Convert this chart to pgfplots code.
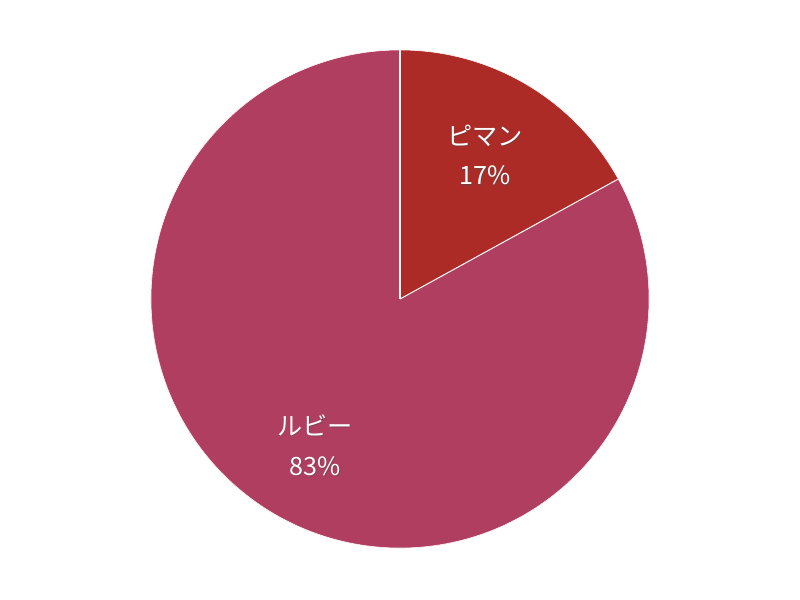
\documentclass[border=0pt]{standalone}
\usepackage{pgfplots}
\pgfplotsset{compat=1.18}
\usepackage{pgfplotstable}
\usepackage{fontspec}
\setmainfont{Noto Sans CJK JP}

\definecolor{pimang}{HTML}{AD2B26}
\definecolor{ruby}{HTML}{AF3E61}

% share in percent
\pgfplotstableread{
name   share
pimang 17
ruby   83
}\piedata
\pgfplotstablegetelem{0}{share}\of\piedata \edef\sA{\pgfplotsretval}
\pgfplotstablegetelem{1}{share}\of\piedata \edef\sB{\pgfplotsretval}
\pgfmathsetmacro{\aA}{90-3.6*\sA}
\pgfmathsetmacro{\aB}{\aA-3.6*\sB}

\newcommand{\pielabel}[4]{%
  \node[align=center, text=black!70, opacity=0.45, font=\fontsize{21.5}{34}\selectfont]
    at ([shift={(0.6pt,-0.9pt)}]axis cs:#3,#4) {#1\\#2\%};
  \node[align=center, text=white, font=\fontsize{21.5}{34}\selectfont]
    at (axis cs:#3,#4) {#1\\#2\%};
}

\begin{document}
\begin{tikzpicture}
\begin{axis}[
    scale only axis,
    width=24cm, height=18cm,
    xmin=0, xmax=800, ymin=0, ymax=600,
    y dir=reverse,
    hide axis,
    clip=false,
]
\path (axis cs:0,0) rectangle (axis cs:800,600);
% radius 249 px = 7.47cm
\fill[ruby] (axis cs:400,299) -- ++(\aA:7.47cm) arc[start angle=\aA, end angle=\aB, radius=7.47cm] -- cycle;
\fill[pimang] (axis cs:400,299) -- ++(90:7.47cm) arc[start angle=90, end angle=\aA, radius=7.47cm] -- cycle;
\draw[white!85!pink, line width=0.9pt] (axis cs:400,299) -- ++(90:7.47cm);
\draw[white!85!pink, line width=0.9pt] (axis cs:400,299) -- ++(\aA:7.47cm);
\draw[white!80!pink, line width=0.5pt] (axis cs:400,299) circle[radius=7.47cm];
\pielabel{ピマン}{\sA}{485}{155}
\pielabel{ルビー}{\sB}{315}{445}
\end{axis}
\end{tikzpicture}
\end{document}
